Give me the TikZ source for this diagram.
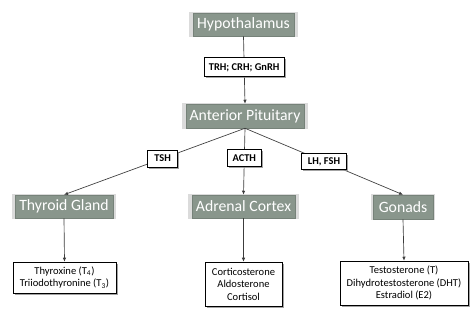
\documentclass[tikz,border=0pt]{standalone}
\usepackage{fontspec}
\setmainfont{Carlito}
\usepackage{xcolor}
\usepackage{tikz}
\usetikzlibrary{arrows.meta,shadows}

\definecolor{glandfill}{RGB}{137,150,140}
\definecolor{glanddraw}{RGB}{118,130,121}
\definecolor{linegray}{RGB}{60,60,60}

\tikzset{
  gland/.style={draw=glanddraw,fill=glandfill,text=white,font=\fontsize{11.8}{14}\selectfont,
    inner sep=0pt,general shadow={fill=black!14,shadow scale=1.07}},
  hormone/.style={draw=black,fill=white,font=\bfseries\fontsize{7.8}{9}\selectfont,inner sep=0pt,
    drop shadow={shadow xshift=1.2pt,shadow yshift=-1.2pt,fill=black!45,opacity=0.8}},
  product/.style={draw=black,fill=white,font=\fontsize{7.9}{9.4}\selectfont,align=center,inner sep=0pt,
    drop shadow={shadow xshift=1.5pt,shadow yshift=-1.5pt,fill=black!45,opacity=0.8}},
  arr/.style={-{Latex[length=3pt,width=2.6pt]},draw=linegray,line width=0.5pt}
}

\begin{document}
\begin{tikzpicture}[x=0.75pt,y=-0.75pt]
\useasboundingbox[fill=white] (0,0) rectangle (474,314);
% glands
\node[gland,minimum width=75.75pt,minimum height=17.25pt] (hyp) at (243.5,24.5) {Hypothalamus};
\node[gland,minimum width=88.5pt,minimum height=18pt] (ap) at (245,116) {Anterior Pituitary};
\node[gland,minimum width=73.5pt,minimum height=17.25pt] (thy) at (64,206.5) {Thyroid Gland};
\node[gland,minimum width=77.25pt,minimum height=17.25pt] (adr) at (243.5,206.5) {Adrenal Cortex};
\node[gland,minimum width=45pt,minimum height=18pt] (gon) at (403,207) {Gonads};
% products
\node[product,minimum width=77.25pt,minimum height=23.25pt] (thyprod) at (64.5,277.5)
  {Thyroxine (T\textsubscript{4})\\Triiodothyronine (T\textsubscript{3})};
\node[product,minimum width=57.75pt,minimum height=33pt] (adrprod) at (243.5,284)
  {Corticosterone\\Aldosterone\\Cortisol};
\node[product,minimum width=96pt,minimum height=33pt] (gonprod) at (404,283)
  {Testosterone (T)\\Dihydrotestosterone (DHT)\\Estradiol (E2)};
% releasing and tropic hormones
\draw[arr] (hyp.south) -- node[hormone,pos=0.46,minimum width=60pt,minimum height=14.25pt] (trh) {TRH; CRH; GnRH} (ap.north);
\draw[arr] (ap.south) -- node[hormone,pos=0.455,minimum width=22.5pt,minimum height=12.75pt] (tsh) {TSH} (thy.north);
\draw[arr] (ap.south) -- node[hormone,pos=0.45,minimum width=25.5pt,minimum height=12.75pt] (acth) {ACTH} (adr.north);
\draw[arr] (ap.south) -- node[hormone,pos=0.5,minimum width=33.75pt,minimum height=12pt] (lhfsh) {LH, FSH} (gon.north);
% secreted hormones
\draw[arr] (thy.south) -- (thyprod.north);
\draw[arr] (adr.south) -- (adrprod.north);
\draw[arr] (gon.south) -- (gonprod.north);
\end{tikzpicture}
\end{document}
